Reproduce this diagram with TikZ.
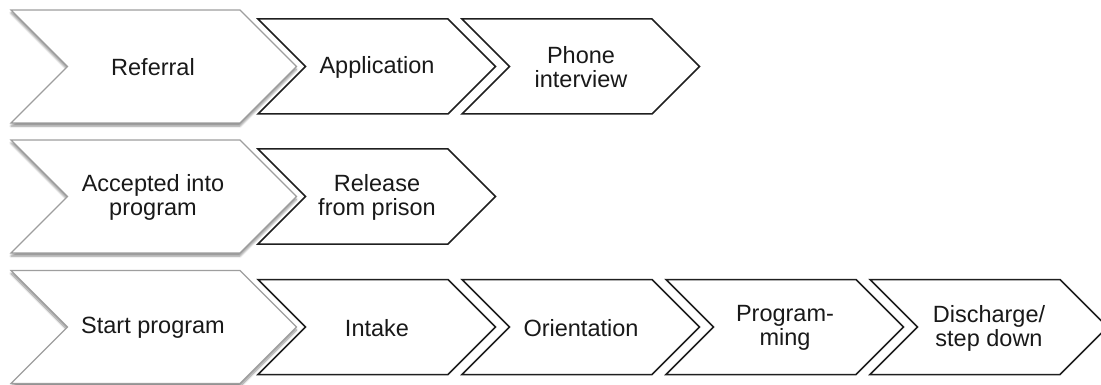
\documentclass[tikz,border=0pt]{standalone}
\usepackage{fontspec}
\setmainfont{Liberation Sans}
\usetikzlibrary{shadows.blur}
\newcommand{\chevpath}[5]{%
  \path[#1] (#2,#3-#4) -- ++(#5,0) -- ++(#4,#4) -- ++(-#4,#4) -- ++(-#5,0) -- ++(#4,-#4) -- cycle;}
\tikzset{
  firstbox/.style={draw=black!38, line width=1.1pt, fill=white, line join=miter,
    blur shadow={shadow xshift=0pt, shadow yshift=-3pt, shadow blur steps=6, shadow opacity=45}},
  stepbox/.style={draw=black!88, line width=1.5pt, fill=white, line join=miter},
  lbl/.style={align=center, inner sep=0pt, text=black!90, font=\fontsize{23.5}{24}\selectfont}
}
\begin{document}
\begin{tikzpicture}[x=1pt, y=-1pt]
\useasboundingbox (0,0) rectangle (1101,385);
% row 1
\chevpath{firstbox}{11}{66.5}{56.5}{229}
\chevpath{stepbox}{258}{66.5}{47.5}{190}
\chevpath{stepbox}{462}{66.5}{47.5}{190}
\node[lbl] (referral) at (153,67) {Referral};
\node[lbl] (application) at (377,67) {Application};
\node[lbl] (phone) at (581,67) {Phone\\interview};
% row 2
\chevpath{firstbox}{11}{196.5}{56.5}{229}
\chevpath{stepbox}{258}{196.5}{47.5}{190}
\node[lbl] (accepted) at (153,197) {Accepted into\\program};
\node[lbl] (release) at (377,197) {Release\\from prison};
% row 3
\chevpath{firstbox}{11}{327}{56.5}{229}
\chevpath{stepbox}{258}{327}{47.5}{190}
\chevpath{stepbox}{462}{327}{47.5}{190}
\chevpath{stepbox}{666}{327}{47.5}{190}
\chevpath{stepbox}{870}{327}{47.5}{190}
\node[lbl] (start) at (153,328) {Start program};
\node[lbl] (intake) at (377,328) {Intake};
\node[lbl] (orientation) at (581,328) {Orientation};
\node[lbl] (programming) at (785,328) {Program-\\ming};
\node[lbl] (discharge) at (989,328) {Discharge/\\step down};
\end{tikzpicture}
\end{document}
